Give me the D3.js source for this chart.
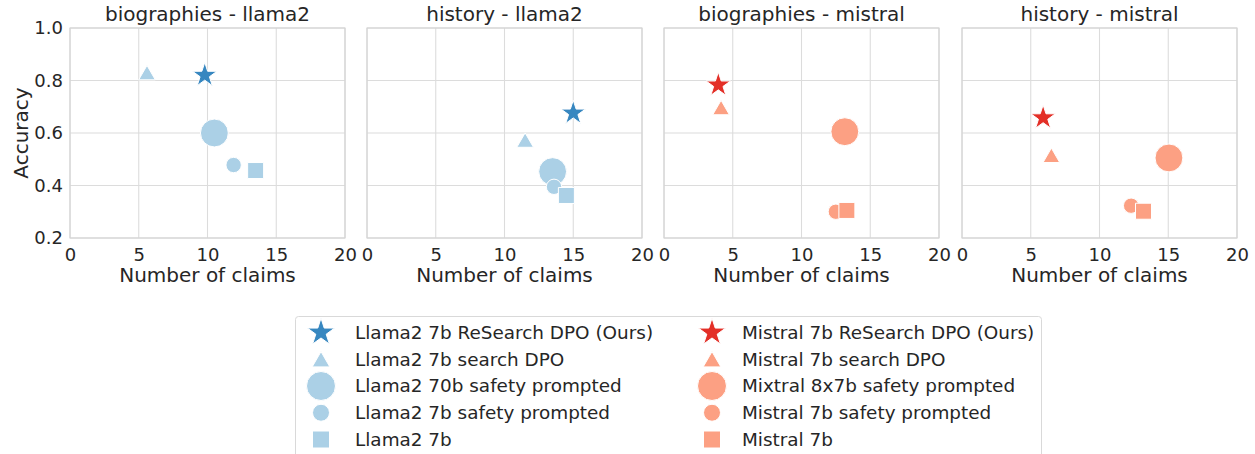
<!doctype html>
<html>
<head>
<meta charset="UTF-8">
<title>accuracy vs claims</title>
<script src="https://d3js.org/d3.v7.min.js"></script>
<style>
  body { margin: 0; background: #fff; }
  text { font-family: "DejaVu Sans", sans-serif; fill: #262626; }
</style>
</head>
<body>
<svg id="chart" width="1255" height="454"></svg>
<script>
// panels and models
var panels = ["biographies - llama2", "history - llama2", "biographies - mistral", "history - mistral"];
var llamaModels = ["Llama2 7b ReSearch DPO (Ours)", "Llama2 7b search DPO", "Llama2 70b safety prompted", "Llama2 7b safety prompted", "Llama2 7b"];
var mistralModels = ["Mistral 7b ReSearch DPO (Ours)", "Mistral 7b search DPO", "Mixtral 8x7b safety prompted", "Mistral 7b safety prompted", "Mistral 7b"];
var markers = ["star", "triangle", "bigcircle", "circle", "square"];

// number of claims per panel, same order as models
var claims = [
  [9.8, 5.6, 10.5, 11.9, 13.5],
  [15.0, 11.5, 13.5, 13.6, 14.5],
  [3.95, 4.15, 13.15, 12.5, 13.3],
  [5.9, 6.5, 15.05, 12.3, 13.2]
];
// accuracy per panel
var accuracy = [
  [0.82, 0.83, 0.60, 0.478, 0.457],
  [0.676, 0.573, 0.453, 0.395, 0.362],
  [0.783, 0.697, 0.605, 0.300, 0.305],
  [0.658, 0.515, 0.505, 0.323, 0.302]
];

var xTicks = [0, 5, 10, 15, 20];
var yTicks = [0.2, 0.4, 0.6, 0.8, 1.0];

var llamaColors = ["#3787c0", "#abd0e6", "#abd0e6", "#abd0e6", "#abd0e6"];
var mistralColors = ["#e32f27", "#fca083", "#fca083", "#fca083", "#fca083"];

var svg = d3.select("#chart");
var pw = 275, ph = 210, pTop = 28;
var lefts = [70, 367, 664, 962];

var y = d3.scaleLinear().domain([0.2, 1.0]).range([pTop + ph, pTop]);

var plotSizes = {star: 185, triangle: 120, bigcircle: 610, circle: 185, square: 256};
var legendSizes = {star: 230, triangle: 135, bigcircle: 660, circle: 227, square: 289};
var types = {star: d3.symbolStar, triangle: d3.symbolTriangle, bigcircle: d3.symbolCircle, circle: d3.symbolCircle, square: d3.symbolSquare};

function markerPath(m, sizes) {
  return d3.symbol().type(types[m]).size(sizes[m])();
}
function markerShift(m, sizes) {
  // centre the triangle on its box like matplotlib does
  if (m === "triangle") return Math.sqrt(sizes[m] / (Math.sqrt(3) * 3)) / 2;
  return 0;
}

panels.forEach(function(name, p) {
  var x0 = lefts[p];
  var x = d3.scaleLinear().domain([0, 20]).range([x0, x0 + pw]);
  var g = svg.append("g");

  // grid
  g.selectAll(".gx").data(xTicks).enter().append("line")
    .attr("x1", function(d){ return x(d); }).attr("x2", function(d){ return x(d); })
    .attr("y1", pTop).attr("y2", pTop + ph)
    .attr("stroke", "#dcdcdc").attr("stroke-width", 1.1);
  g.selectAll(".gy").data(yTicks).enter().append("line")
    .attr("x1", x0).attr("x2", x0 + pw)
    .attr("y1", function(d){ return y(d); }).attr("y2", function(d){ return y(d); })
    .attr("stroke", "#dcdcdc").attr("stroke-width", 1.1);
  g.append("rect").attr("x", x0).attr("y", pTop).attr("width", pw).attr("height", ph)
    .attr("fill", "none").attr("stroke", "#d4d4d4").attr("stroke-width", 1.1);

  // x ticks
  var xa = g.append("g").attr("transform", "translate(0," + (pTop + ph) + ")")
    .call(d3.axisBottom(x).tickValues(xTicks).tickSize(0).tickPadding(10).tickFormat(d3.format("d")));
  xa.select(".domain").remove();
  xa.selectAll("text").attr("font-size", 18).attr("font-family", "DejaVu Sans").attr("fill", "#262626");

  g.append("text").attr("x", x0 + pw / 2).attr("y", 282)
    .attr("text-anchor", "middle").attr("font-size", 20).text("Number of claims");

  g.append("text").attr("x", x0 + pw / 2).attr("y", 21)
    .attr("text-anchor", "middle").attr("font-size", 20).text(name);

  if (p === 0) {
    var ya = g.append("g").attr("transform", "translate(" + x0 + ",0)")
      .call(d3.axisLeft(y).tickValues(yTicks).tickSize(0).tickPadding(7).tickFormat(d3.format(".1f")));
    ya.select(".domain").remove();
    ya.selectAll("text").attr("font-size", 18).attr("font-family", "DejaVu Sans").attr("fill", "#262626");
    g.append("text").attr("transform", "translate(28," + (pTop + ph / 2) + ") rotate(-90)")
      .attr("text-anchor", "middle").attr("font-size", 20).text("Accuracy");
  }

  var colors = p < 2 ? llamaColors : mistralColors;
  // draw big markers first so small ones sit on top
  var order = [2, 1, 3, 4, 0];
  order.forEach(function(i) {
    g.append("path")
      .attr("d", markerPath(markers[i], plotSizes))
      .attr("transform", "translate(" + x(claims[p][i]) + "," + (y(accuracy[p][i]) + markerShift(markers[i], plotSizes)) + ")")
      .attr("fill", colors[i]).attr("stroke", "#fff").attr("stroke-width", 1);
  });
});

// legend
var lg = svg.append("g");
lg.append("rect").attr("x", 295.5).attr("y", 316.5).attr("width", 746).attr("height", 150).attr("rx", 3)
  .attr("fill", "#fff").attr("stroke", "#d9d9d9").attr("stroke-width", 1);
var rowY = d3.scaleLinear().domain([0, 4]).range([332.5, 439.5]);
[[llamaModels, llamaColors, 321, 355], [mistralModels, mistralColors, 712, 742]].forEach(function(col) {
  col[0].forEach(function(label, i) {
    lg.append("path").attr("d", markerPath(markers[i], legendSizes))
      .attr("transform", "translate(" + col[2] + "," + (rowY(i) + markerShift(markers[i], legendSizes)) + ")")
      .attr("fill", col[1][i]).attr("stroke", "#fff").attr("stroke-width", 1);
    lg.append("text").attr("x", col[3]).attr("y", rowY(i)).attr("dy", "0.35em")
      .attr("font-size", 18.4).text(label);
  });
});
</script>
</body>
</html>
